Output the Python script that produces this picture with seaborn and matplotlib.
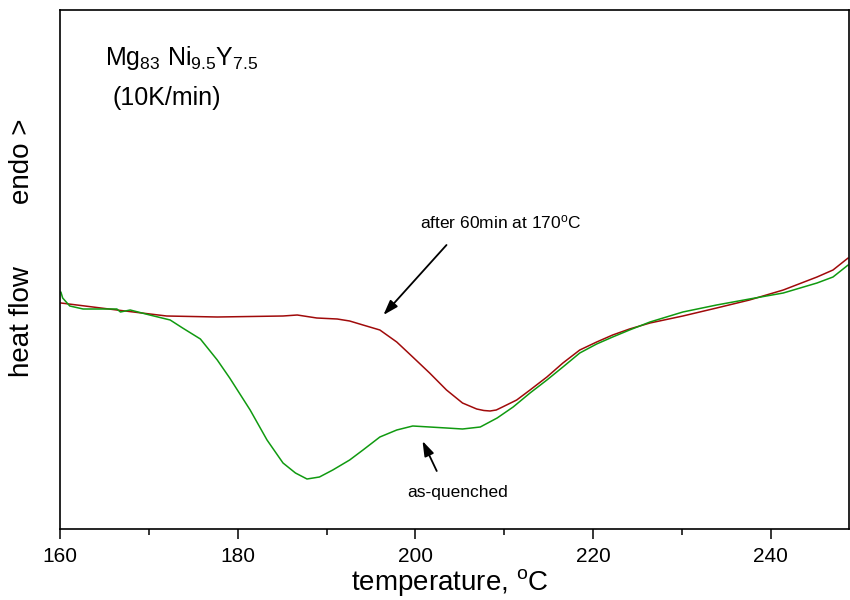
import numpy as np
import pandas as pd
import matplotlib
matplotlib.use("Agg")
import matplotlib.pyplot as plt
import seaborn as sns
from matplotlib.ticker import MultipleLocator

# ---- data (heat flow in arbitrary units) ----
temp_annealed = [160.1, 166.4, 172.0, 177.7, 185.1, 186.7, 188.9, 191.2, 192.6, 194.1,
                 196.0, 197.9, 199.7, 201.6, 203.5, 205.3, 206.9, 207.7, 208.4, 209.1,
                 209.8, 211.4, 212.9, 214.8, 216.6, 218.5, 220.4, 222.2, 224.1, 226.4,
                 230.1, 233.9, 237.6, 241.4, 245.2, 247.0, 248.7]
hf_annealed = [2.26, 2.19, 2.13, 2.12, 2.13, 2.14, 2.11, 2.10, 2.08, 2.04,
               1.99, 1.87, 1.72, 1.56, 1.39, 1.26, 1.20, 1.185, 1.18, 1.19,
               1.22, 1.29, 1.39, 1.52, 1.66, 1.79, 1.87, 1.94, 2.00, 2.06,
               2.13, 2.21, 2.29, 2.39, 2.52, 2.59, 2.71]

temp_quenched = [160.1, 160.3, 161.1, 162.6, 166.4, 166.8, 167.9, 170.1, 172.4, 173.8,
                 175.8, 177.7, 179.1, 181.4, 183.3, 185.1, 186.5, 187.8, 189.2, 190.7,
                 192.6, 194.1, 196.0, 197.9, 199.7, 201.6, 203.5, 205.3, 207.3, 209.2,
                 211.0, 212.9, 214.8, 216.6, 218.5, 220.4, 222.2, 224.1, 226.4, 230.1,
                 233.9, 237.6, 241.4, 245.2, 247.0, 248.7]
hf_quenched = [2.37, 2.31, 2.23, 2.20, 2.20, 2.17, 2.19, 2.14, 2.09, 2.01,
               1.90, 1.69, 1.51, 1.19, 0.89, 0.66, 0.56, 0.50, 0.52, 0.59,
               0.69, 0.79, 0.92, 0.99, 1.03, 1.02, 1.01, 1.00, 1.02, 1.11,
               1.22, 1.36, 1.49, 1.62, 1.76, 1.85, 1.92, 1.99, 2.07, 2.17,
               2.24, 2.30, 2.36, 2.46, 2.52, 2.64]

df = pd.concat([
    pd.DataFrame({"T": temp_annealed, "hf": hf_annealed, "state": "annealed"}),
    pd.DataFrame({"T": temp_quenched, "hf": hf_quenched, "state": "as-quenched"}),
])

sns.set_style("ticks", rc={"axes.edgecolor": "black", "xtick.color": "black",
                           "text.color": "black", "axes.labelcolor": "black"})
plt.rcParams['font.family'] = ['Liberation Sans', 'DejaVu Sans']
plt.rcParams['mathtext.default'] = 'regular'

fig = plt.figure(figsize=(8.5, 6), dpi=100)
ax = fig.add_axes([60 / 850, 71 / 600, 789 / 850, 519 / 600])

sns.lineplot(data=df, x="T", y="hf", hue="state", sort=False,
             palette={"annealed": "#a00a0a", "as-quenched": "#109a10"},
             linewidth=1.1, legend=False, ax=ax)

ax.set_xlim(160, 248.8)
ax.set_ylim(0, 5.19)
ax.xaxis.set_major_locator(MultipleLocator(20))
ax.xaxis.set_minor_locator(MultipleLocator(10))
ax.tick_params(axis="x", which="major", direction="out", length=7, width=1.1,
               labelsize=15, pad=6, colors="black")
ax.tick_params(axis="x", which="minor", direction="out", length=4, width=1.1, colors="black")
ax.set_yticks([])
ax.set_xlabel("")
ax.set_ylabel("")
for sp in ax.spines.values():
    sp.set_linewidth(1.2)
    sp.set_color("black")
    sp.set_visible(True)

# labels
fig.text(450 / 850, 1 - 583 / 600, r"temperature, $^o$C", fontsize=20, ha="center", va="center")
fig.text(22 / 850, 1 - 322 / 600, "heat flow", fontsize=20, rotation=90, ha="center", va="center")
fig.text(22 / 850, 1 - 161 / 600, "endo >", fontsize=20, rotation=90, ha="center", va="center")

ax.text(0.057, 0.894, r"Mg$_{83}$ Ni$_{9.5}$Y$_{7.5}$", transform=ax.transAxes, fontsize=18,
        ha="left", va="baseline")
ax.text(0.067, 0.830, "(10K/min)", transform=ax.transAxes, fontsize=18, ha="left", va="center")

# annotations
arrow = dict(arrowstyle="-|>,head_length=0.9,head_width=0.3", color="black", lw=1.3,
             shrinkA=0, shrinkB=0)
ax.annotate("", xy=(196.4, 2.14), xytext=(203.5, 2.84), arrowprops=arrow)
ax.text(209.6, 3.07, r"after 60min at 170$^o$C", fontsize=12.5, ha="center", va="center")
ax.annotate("", xy=(200.8, 0.88), xytext=(202.4, 0.58), arrowprops=arrow)
ax.text(204.8, 0.36, "as-quenched", fontsize=12.5, ha="center", va="center")

fig.savefig("out.png", dpi=100)
